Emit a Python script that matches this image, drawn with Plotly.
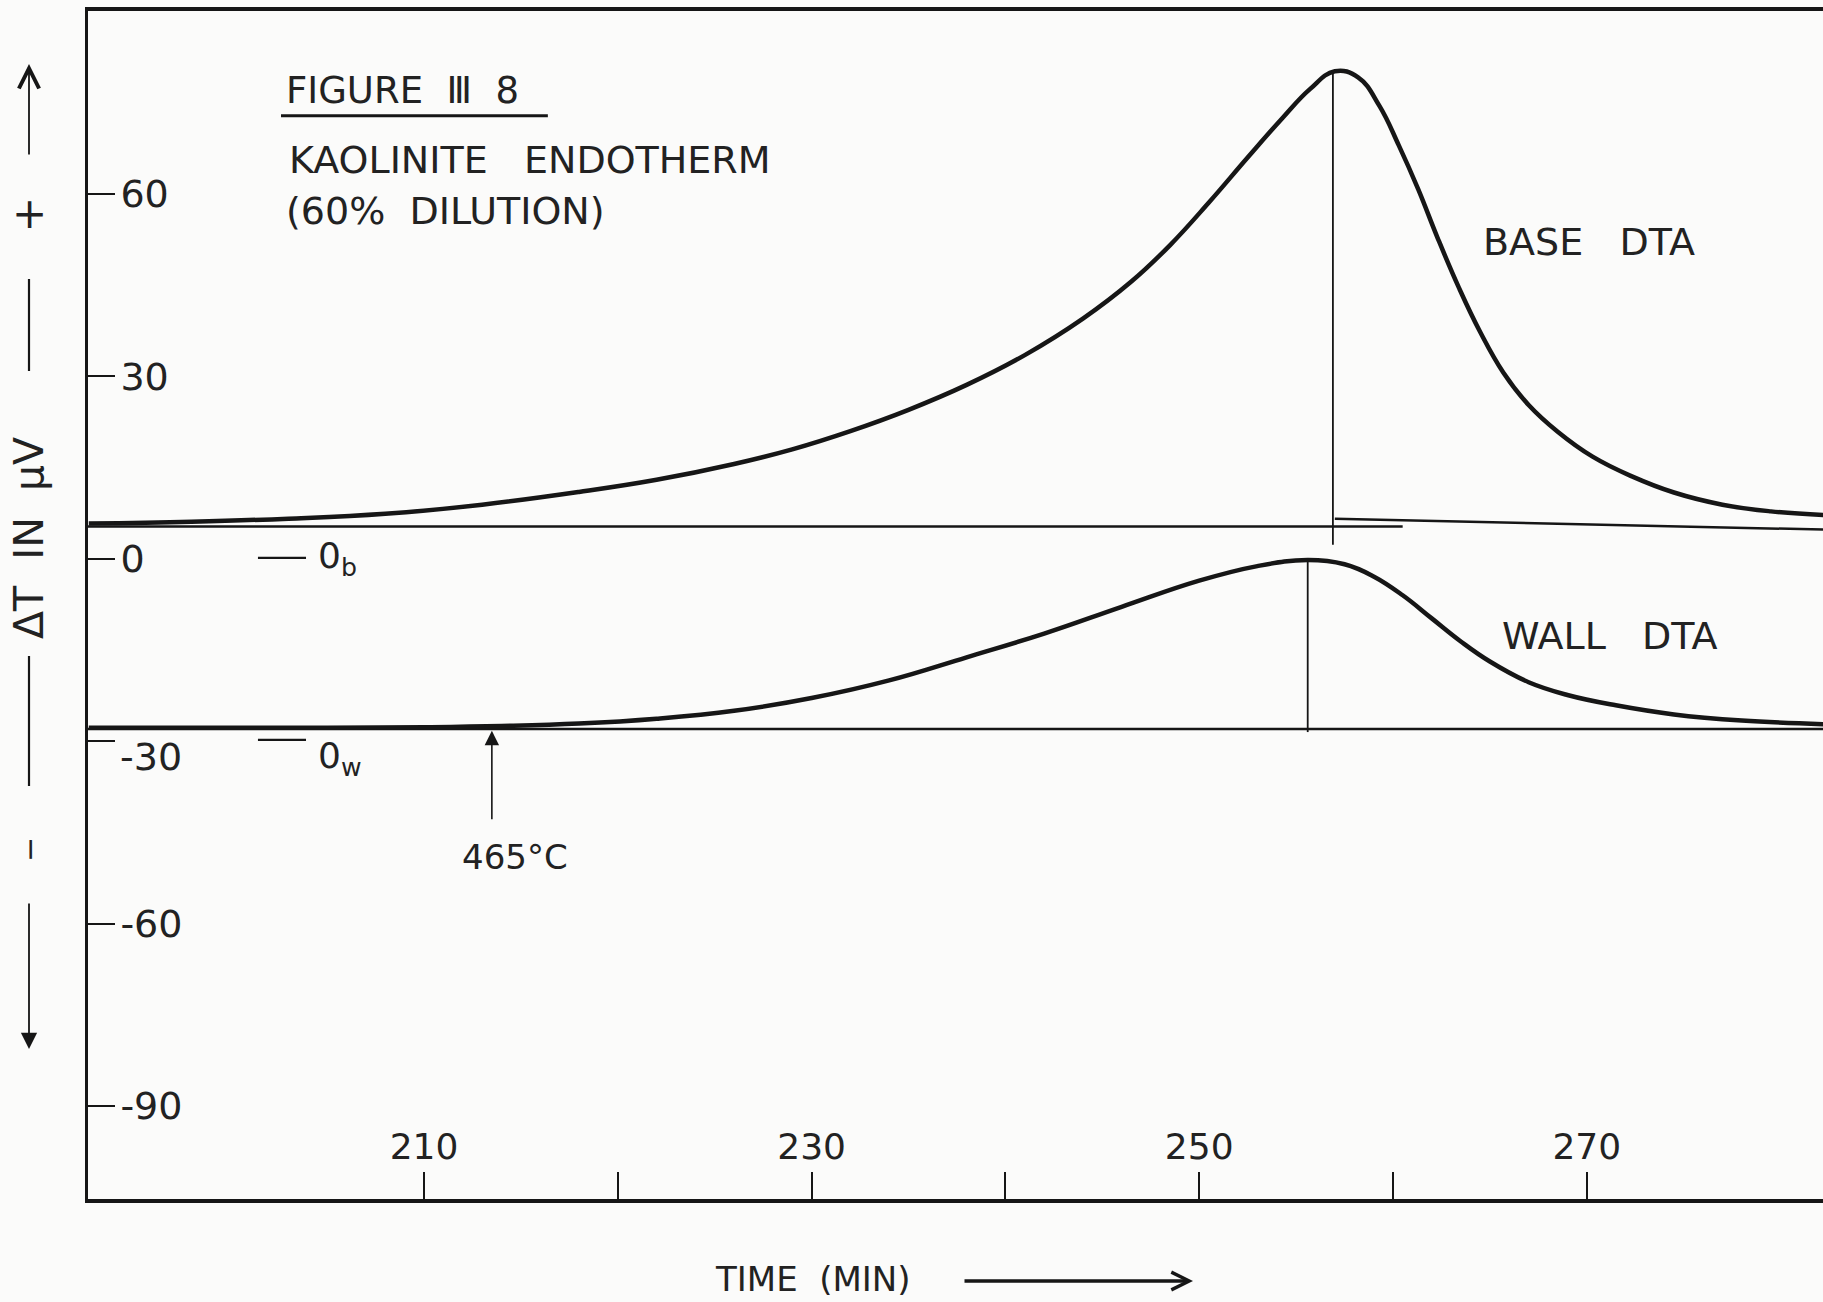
import plotly.graph_objects as go

# ---- Base DTA trace (time in min, deflection in microvolts on the chart scale)
base_time = [192.7, 198.0, 203.0, 208.0, 213.0, 218.0, 222.0, 226.0, 229.0, 232.0,
             235.0, 238.0, 241.0, 244.0, 246.5, 248.5, 250.5, 252.5, 254.3, 255.7,
             257.0, 258.2, 259.3, 260.3, 261.3, 262.3, 263.4, 264.5, 265.7, 267.0,
             268.5, 270.3, 272.3, 274.5, 277.0, 279.5, 282.2]
base_dta = [5.8, 6.1, 6.6, 7.4, 8.9, 11.0, 13.0, 15.6, 18.0, 21.0,
            24.5, 28.6, 33.5, 39.5, 45.6, 51.6, 58.6, 66.0, 72.5, 77.2,
            80.2, 79.2, 74.5, 68.0, 60.8, 52.8, 44.6, 37.3, 30.6, 25.3,
            20.9, 16.8, 13.6, 10.9, 8.9, 7.8, 7.2]

# ---- Wall DTA trace
wall_time = [192.7, 200.0, 205.0, 210.0, 214.0, 218.0, 222.0, 226.0, 230.0, 234.0,
             238.0, 242.0, 246.0, 250.0, 253.0, 255.6, 257.5, 259.0, 260.5, 262.0,
             263.5, 265.0, 267.0, 269.0, 271.5, 274.5, 278.0, 282.2]
wall_dta = [-27.8, -27.8, -27.8, -27.7, -27.5, -27.1, -26.3, -25.0, -22.9, -20.0,
            -16.2, -12.3, -7.9, -3.6, -1.2, -0.2, -0.9, -2.9, -6.0, -9.8,
            -13.6, -16.9, -20.3, -22.4, -24.1, -25.6, -26.6, -27.2]

# ---- Baselines and peak markers
base_line_time = [192.6, 260.5]
base_line_dta = [5.3, 5.3]
base_tail_time = [257.0, 282.2]
base_tail_dta = [6.6, 4.8]
wall_line_time = [192.5, 282.2]
wall_line_dta = [-28.0, -28.0]
base_peak_time = [256.9, 256.9]
base_peak_dta = [80.2, 2.3]
wall_peak_time = [255.6, 255.6]
wall_peak_dta = [-0.2, -28.5]

onset_time = 213.5
onset_dta = -28.3
onset_label = "465°C"

# ---- Axis ticks
x_ticks = [210, 220, 230, 240, 250, 260, 270]
x_tick_text = ["210", "", "230", "", "250", "", "270"]
y_ticks = [60, 30, 0, -30, -60, -90]
y_tick_text = ["60", "30", "0", "", "-60", "-90"]
# the -30 label is lettered a little below its tick
y_low_label = "-30"
y_low_label_pos = -32.6

X_RANGE = [192.66, 282.19]
Y_RANGE = [-105.3, 90.1]

INK = "#161616"
TEXT = "#222222"
FONT = "DejaVu Sans"

fig = go.Figure()


def line(x, y, width):
    fig.add_trace(go.Scatter(x=x, y=y, mode="lines", hoverinfo="skip",
                             line=dict(color=INK, width=width), showlegend=False))


line(base_line_time, base_line_dta, 2.5)
line(base_tail_time, base_tail_dta, 2.5)
line(wall_line_time, wall_line_dta, 2.5)
line(base_peak_time, base_peak_dta, 1.8)
line(wall_peak_time, wall_peak_dta, 1.8)

fig.add_trace(go.Scatter(x=base_time, y=base_dta, mode="lines", name="BASE DTA",
                         line=dict(color=INK, width=4.5, shape="spline", smoothing=1.2),
                         showlegend=False))
fig.add_trace(go.Scatter(x=wall_time, y=wall_dta, mode="lines", name="WALL DTA",
                         line=dict(color=INK, width=4.5, shape="spline", smoothing=1.2),
                         showlegend=False))

W, H = 1823, 1302
L, R, T, B = 88, 0, 11, 103


def px(xp):
    return (xp - L) / (W - L - R)


def py(yp):
    return (H - B - yp) / (H - B - T)


ann = []


def text(x, y, s, size=34, xanchor="left", xref="x", yref="y", angle=0):
    ann.append(dict(x=x, y=y, xref=xref, yref=yref, text=s, showarrow=False,
                    xanchor=xanchor, yanchor="middle", textangle=angle,
                    font=dict(family=FONT, size=size, color=TEXT)))


# Title block
text(202.78, 76.97, "FIGURE  Ⅲ  8", size=37)
text(202.93, 65.62, "KAOLINITE   ENDOTHERM", size=38)
text(202.78, 57.24, "(60%  DILUTION)", size=38)

# Curve labels
text(264.54, 52.14, "BASE   DTA", size=38)
text(265.52, -12.66, "WALL   DTA", size=38)

# Zero references of the two traces
text(204.43, 0.0, "0<sub>b</sub>", size=36)
text(204.43, -32.9, "0<sub>w</sub>", size=36)

# Onset temperature
text(214.70, -49.0, onset_label, size=34, xanchor="center")
ann.append(dict(x=onset_time, y=onset_dta, xref="x", yref="y", text="",
                showarrow=True, ax=0, ay=90, arrowhead=2, arrowsize=1.8,
                arrowwidth=1.6, arrowcolor=INK))

# -30 tick label
text(px(118), y_low_label_pos, y_low_label, size=38, xref="paper", yref="y")

# Vertical axis caption (reads bottom to top)
col = px(29)
text(col, py(538), "ΔT  IN  μV", size=41, xanchor="center", xref="paper", yref="paper", angle=-90)
text(col, py(214), "+", size=42, xanchor="center", xref="paper", yref="paper")
text(col, py(850), "−", size=30, xanchor="center", xref="paper", yref="paper", angle=-90)
ann.append(dict(x=col, y=py(64), xref="paper", yref="paper", text="", showarrow=True,
                ax=0, ay=92, arrowhead=5, arrowsize=2.2, arrowwidth=1.8, arrowcolor=INK))
ann.append(dict(x=col, y=py(1049), xref="paper", yref="paper", text="", showarrow=True,
                ax=0, ay=-147, arrowhead=2, arrowsize=1.8, arrowwidth=1.8, arrowcolor=INK))

# Horizontal axis caption
text(px(813), py(1279), "TIME  (MIN)", size=34, xanchor="center", xref="paper", yref="paper")
ann.append(dict(x=px(1193), y=py(1281), xref="paper", yref="paper", text="", showarrow=True,
                ax=-230, ay=0, arrowhead=5, arrowsize=1.0, arrowwidth=3.5, arrowcolor=INK))

shapes = [
    # underline of the figure number
    dict(type="line", xref="x", yref="y", x0=202.62, x1=216.39, y0=72.86, y1=72.86,
         line=dict(color=INK, width=3)),
    # short dashes beside the zero references
    dict(type="line", xref="x", yref="y", x0=201.43, x1=203.91, y0=0.16, y1=0.16,
         line=dict(color=INK, width=2.2)),
    dict(type="line", xref="x", yref="y", x0=201.43, x1=203.91, y0=-29.8, y1=-29.8,
         line=dict(color=INK, width=2.2)),
    # caption rules on the vertical axis
    dict(type="line", xref="paper", yref="paper", x0=col, x1=col, y0=py(279), y1=py(371),
         line=dict(color=INK, width=2.2)),
    dict(type="line", xref="paper", yref="paper", x0=col, x1=col, y0=py(656), y1=py(786),
         line=dict(color=INK, width=2.2)),
]

fig.update_layout(
    width=W, height=H, autosize=False,
    margin=dict(l=L, r=R, t=T, b=B, pad=0),
    paper_bgcolor="#fbfbfa", plot_bgcolor="#fbfbfa",
    font=dict(family=FONT, size=34, color=TEXT),
    annotations=ann, shapes=shapes, showlegend=False,
    xaxis=dict(range=X_RANGE, showgrid=False, zeroline=False, showline=True,
               linecolor=INK, linewidth=3.5, mirror=True,
               ticks="inside", ticklen=27, tickwidth=2, tickcolor=INK,
               tickvals=x_ticks, ticktext=x_tick_text,
               ticklabelposition="inside", ticklabelstandoff=10,
               tickfont=dict(family=FONT, size=36, color=TEXT)),
    yaxis=dict(range=Y_RANGE, showgrid=False, zeroline=False, showline=True,
               linecolor=INK, linewidth=3, mirror=False,
               ticks="inside", ticklen=27, tickwidth=2, tickcolor=INK,
               tickvals=y_ticks, ticktext=y_tick_text,
               ticklabelposition="inside", ticklabelstandoff=10,
               tickfont=dict(family=FONT, size=38, color=TEXT)),
)

fig.write_html("out.html")
